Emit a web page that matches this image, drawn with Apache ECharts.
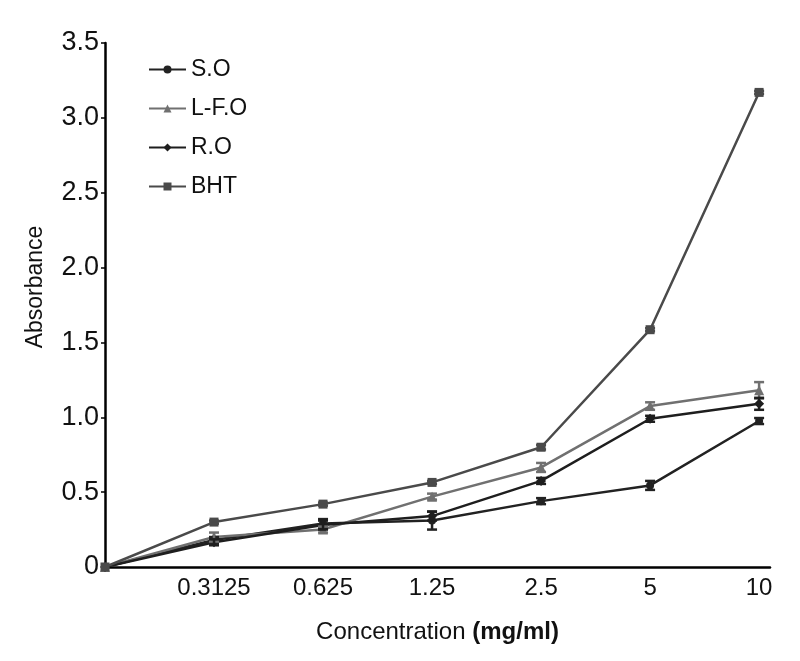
<!DOCTYPE html>
<html>
<head>
<meta charset="utf-8">
<script src="https://cdn.jsdelivr.net/npm/echarts@6/dist/echarts.min.js"></script>
<style>html,body{margin:0;padding:0;background:#fff}#c{width:800px;height:661px}</style>
</head>
<body>
<div id="c"></div>
<script>
const categories = ['', '0.3125', '0.625', '1.25', '2.5', '5', '10'];
const seriesNames = ['S.O', 'L-F.O', 'R.O', 'BHT'];
const SO = [0, 0.18, 0.29, 0.31, 0.44, 0.545, 0.975];
const SO_err = [0, 0.02, 0.03, 0.06, 0.02, 0.03, 0.02];
const LFO = [0, 0.20, 0.25, 0.47, 0.665, 1.075, 1.18];
const LFO_err = [0, 0.03, 0.02, 0.02, 0.03, 0.025, 0.055];
const RO = [0, 0.165, 0.28, 0.34, 0.575, 0.99, 1.09];
const RO_err = [0, 0.02, 0.03, 0.03, 0.02, 0.02, 0.04];
const BHT = [0, 0.30, 0.42, 0.565, 0.80, 1.585, 3.17];
const BHT_err = [0, 0.01, 0.01, 0.01, 0.015, 0.01, 0.01];
const yTicks = [0, 0.5, 1.0, 1.5, 2.0, 2.5, 3.0, 3.5];

const values = [SO, LFO, RO, BHT];
const errors = [SO_err, LFO_err, RO_err, BHT_err];
const colors = ['#222222', '#707070', '#1e1e1e', '#4a4a4a'];
const symbols = ['circle', 'triangle', 'diamond', 'rect'];
const symSizes = [8, 10, 10, 9];

const chart = echarts.init(document.getElementById('c'), null, {renderer: 'canvas'});
const FONT = 'Liberation Sans, Arial, sans-serif';

const series = [];
values.forEach((vals, s) => {
  series.push({
    name: seriesNames[s],
    type: 'line',
    data: vals.map((v, i) => [i, v]),
    symbol: symbols[s],
    symbolSize: symSizes[s],
    showAllSymbol: true,
    lineStyle: {color: colors[s], width: 2.5},
    itemStyle: {color: colors[s]},
    z: 3
  });
  series.push({
    type: 'custom',
    name: seriesNames[s] + '_err',
    data: vals.map((v, i) => [i, v - errors[s][i], v + errors[s][i]]),
    renderItem: function (params, api) {
      const x = api.value(0);
      if (api.value(2) - api.value(1) <= 0) return null;
      const lo = api.coord([x, api.value(1)]);
      const hi = api.coord([x, api.value(2)]);
      const w = 5;
      const st = {stroke: colors[s], lineWidth: 2.5};
      return {
        type: 'group',
        children: [
          {type: 'line', shape: {x1: lo[0], y1: lo[1], x2: hi[0], y2: hi[1]}, style: st},
          {type: 'line', shape: {x1: lo[0] - w, y1: lo[1], x2: lo[0] + w, y2: lo[1]}, style: st},
          {type: 'line', shape: {x1: hi[0] - w, y1: hi[1], x2: hi[0] + w, y2: hi[1]}, style: st}
        ]
      };
    },
    z: 4,
    silent: true
  });
});

chart.setOption({
  animation: false,
  backgroundColor: '#ffffff',
  textStyle: {fontFamily: FONT},
  grid: {left: 105, right: 30, top: 43, bottom: 94, containLabel: false},
  legend: {
    data: seriesNames,
    orient: 'vertical',
    left: 143,
    top: 53,
    itemWidth: 37,
    itemHeight: 10,
    itemGap: 16,
    textStyle: {fontSize: 23, color: '#111', fontFamily: FONT}
  },
  xAxis: {
    type: 'value',
    min: 0,
    max: 6.1,
    interval: 1,
    splitLine: {show: false},
    axisTick: {show: false},
    axisLine: {lineStyle: {color: '#000', width: 2.5}},
    axisLabel: {
      fontSize: 24, color: '#111', margin: 9, fontFamily: FONT,
      formatter: v => Number.isInteger(v) && categories[v] !== undefined ? categories[v] : ''
    },
    name: '{a|Concentration }{b|(mg/ml)}',
    nameLocation: 'middle',
    nameGap: 53,
    nameTextStyle: {
      rich: {
        a: {fontSize: 24, color: '#111', fontFamily: FONT},
        b: {fontSize: 24, color: '#111', fontWeight: 'bold', fontFamily: FONT}
      }
    }
  },
  yAxis: {
    type: 'value',
    min: 0,
    max: 3.5,
    interval: 0.5,
    splitLine: {show: false},
    axisTick: {show: true, length: 4, lineStyle: {color: '#000', width: 1.5}},
    axisLine: {show: true, lineStyle: {color: '#000', width: 2.5}},
    axisLabel: {
      fontSize: 27, color: '#111', margin: 6, fontFamily: FONT,
      formatter: v => { const t = yTicks.find(k => Math.abs(k - v) < 1e-9); return t === 0 ? '0' : (t !== undefined ? t.toFixed(1) : ''); }
    },
    name: 'Absorbance',
    nameLocation: 'middle',
    nameGap: 58,
    nameTextStyle: {fontSize: 23, color: '#111', fontFamily: FONT, padding: [0, 0, 0, 36]}
  },
  series: series
});
</script>
</body>
</html>
